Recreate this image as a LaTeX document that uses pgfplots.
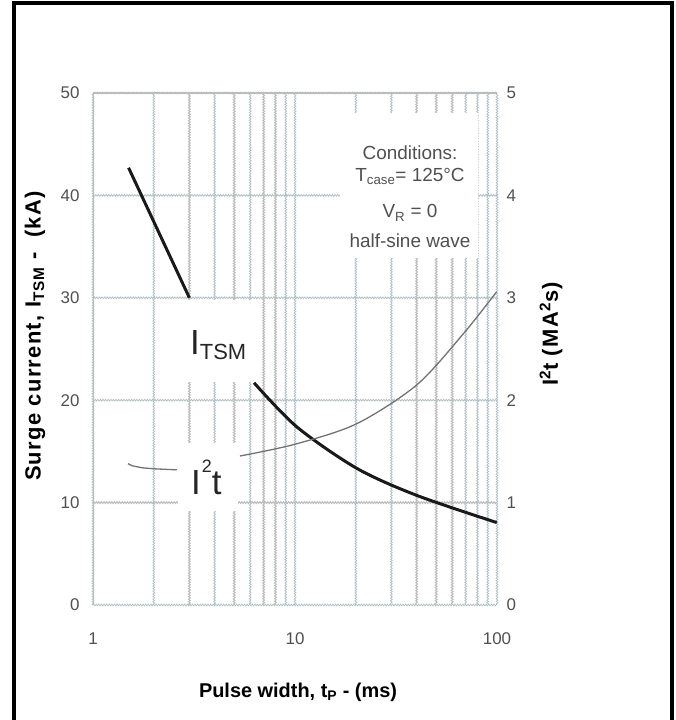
\documentclass[border=0pt]{standalone}
\usepackage{fontspec}
\setmainfont{Liberation Sans}
\usepackage{pgfplots}
\pgfplotsset{compat=1.18}
\usetikzlibrary{decorations.pathmorphing}

\definecolor{gridgray}{RGB}{172,190,196}
\definecolor{solidgray}{RGB}{188,188,188}
\definecolor{txtgray}{RGB}{80,80,80}

\tikzset{wavy/.style={gridgray, line width=0.7bp, decorate,
    decoration={zigzag, amplitude=0.9bp, segment length=2.6bp}}}

\begin{document}
\begin{tikzpicture}[x=1bp, y=1bp]
\path[use as bounding box] (0,0) rectangle (676,720);
\draw[line width=4bp] (14,-5) -- (14,717) -- (672,717) -- (672,-5);

% left axis: surge current
\begin{axis}[
  at={(93bp,115bp)}, anchor=south west,
  scale only axis, width=404bp, height=512bp,
  xmode=log, xmin=1, xmax=100,
  ymin=0, ymax=50,
  axis line style={draw=none},
  tick style={draw=none},
  /pgf/number format/assume math mode=true,
  ticklabel style={font=\fontsize{17}{17}\selectfont, text=txtgray},
  log ticks with fixed point,
  xtick={1,10,100},
  xticklabel style={yshift=-24bp},
  ytick={0,20,30,40,50},
  extra y ticks={10},
  extra y tick style={major grid style={solidgray, line width=1bp}},
  minor xtick={2,4,6,9,20,30,70,80,90},
  extra x ticks={3,5,7,8,40,50,60}, extra x tick labels={},
  extra x tick style={grid=major, major grid style={solidgray, line width=1bp}},
  grid=both,
  major grid style={wavy},
  minor grid style={wavy},
  yticklabel style={xshift=-10bp},
]
% frame pieces
\draw[solidgray, line width=1.2bp] (rel axis cs:0,0) -- (rel axis cs:0,1);
\draw[solidgray, line width=3bp] (rel axis cs:0,1) -- (rel axis cs:1,1);
% white boxes behind the labels
\fill[white] (axis cs:16.7,33.9) rectangle (axis cs:80.5,48.0);
\fill[white] (axis cs:2.55,21.8) rectangle (axis cs:6.3,29.8);
\fill[white] (axis cs:2.64,9.2) rectangle (axis cs:5.22,15.8);

\addplot[line width=3bp, black!90] coordinates {(1.5,42.7) (3.0,30.0)};
\addplot[line width=3bp, black!90, smooth] coordinates {
  (6.27,21.7) (10.2,17.4) (20.2,13.35) (40.1,10.7) (99.7,8.05)};
\end{axis}

% right axis: I^2t
\begin{axis}[
  at={(93bp,115bp)}, anchor=south west,
  scale only axis, width=404bp, height=512bp,
  xmode=log, xmin=1, xmax=100,
  ymin=0, ymax=5,
  axis x line=none,
  axis y line*=right,
  axis line style={draw=none},
  tick style={draw=none},
  /pgf/number format/assume math mode=true,
  ticklabel style={font=\fontsize{17}{17}\selectfont, text=txtgray},
  ytick={0,1,...,5},
  yticklabel style={xshift=6bp},
]
\addplot[line width=1.3bp, black!55] coordinates {
  (1.49,1.38) (1.56,1.36) (1.75,1.34) (2.0,1.33) (2.6,1.32)};
\addplot[line width=1.3bp, black!55, smooth] coordinates {
  (5.34,1.455) (10,1.57) (20.2,1.77) (40.1,2.15) (68.2,2.65) (99.7,3.06)};
\end{axis}

% axis titles
\node[rotate=90, font=\bfseries\fontsize{22}{22}\selectfont\addfontfeature{LetterSpace=6}]
  at (35,384) {Surge current, I\textsubscript{TSM} -\ \ (kA)};
\node[rotate=90, font=\bfseries\fontsize{22}{22}\selectfont\addfontfeature{LetterSpace=6}]
  at (551,386) {I\textsuperscript{2}t (MA\textsuperscript{2}s)};
\node[font=\bfseries\fontsize{20}{20}\selectfont]
  at (298,28) {Pulse width, t\textsubscript{P} - (ms)};

% conditions
\begin{scope}[every node/.style={anchor=base, text=txtgray,
    font=\fontsize{19}{19}\selectfont}]
\node at (410,560) {Conditions:};
\node at (410,538) {T\textsubscript{case}= 125°C};
\node at (410,502) {V\textsubscript{R} = 0};
\node at (410,472) {half-sine wave};
\end{scope}

% curve labels
\node[anchor=base west, inner sep=0pt, text=black!85]
  at (190,365) {\fontsize{35}{35}\selectfont I\raisebox{-5bp}{\fontsize{22}{22}\selectfont TSM}};
\node[anchor=base west, inner sep=0pt, text=black!85]
  at (191,225) {\fontsize{35}{35}\selectfont I\kern1bp\raisebox{22bp}{\fontsize{18}{18}\selectfont 2}t};
\end{tikzpicture}
\end{document}
